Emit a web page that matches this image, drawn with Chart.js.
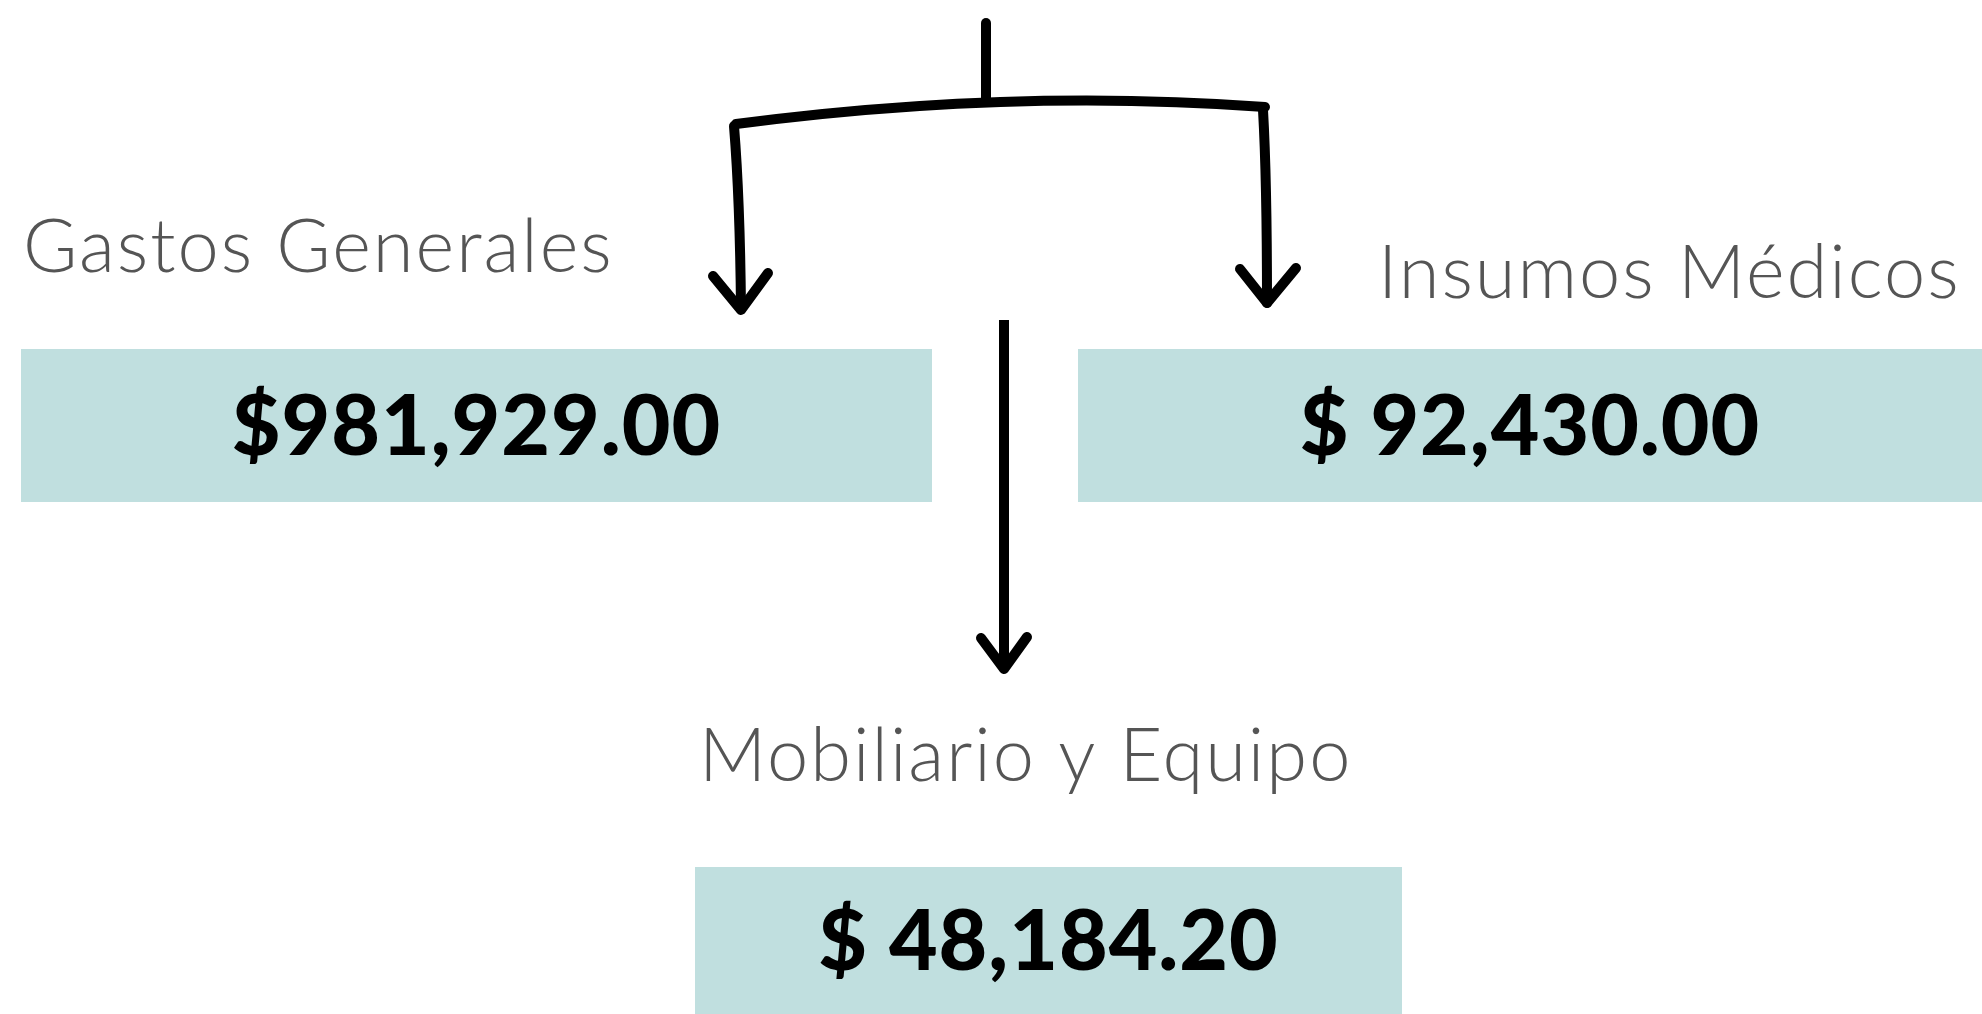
<!DOCTYPE html>
<html>
<head>
<meta charset="utf-8">
<script src="https://cdn.jsdelivr.net/npm/chart.js@4.4.1/dist/chart.umd.min.js"></script>
<style>
   html, body { margin: 0; padding: 0; background: #fff; }
   #wrap { width: 1982px; height: 1014px; }
</style>
</head>
<body>
<div id="wrap"><canvas id="gastosChart"></canvas></div>
<script>
// categories and amounts
const categories = ['Gastos Generales', 'Insumos Médicos', 'Mobiliario y Equipo'];
const amounts = [981929.00, 92430.00, 48184.20];
const amountLabels = ['$981,929.00', '$ 92,430.00', '$ 48,184.20'];

// layout in scale units (x 0-1982, y 0-1014 top down)
const boxes = [
   { x0: 21, x1: 932, y0: 349, y1: 502 },
   { x0: 1078, x1: 1982, y0: 349, y1: 502 },
   { x0: 695, x1: 1402, y0: 867, y1: 1014 }
];
const titlePos = [
   { x: 23, y: 272 },
   { x: 1378, y: 298 },
   { x: 699, y: 781 }
];

const diagramPlugin = {
   id: 'diagram',
   afterDraw(chart) {
      const ctx = chart.ctx;
      const sx = chart.scales.x, sy = chart.scales.y;
      const px = v => sx.getPixelForValue(v);
      const py = v => sy.getPixelForValue(v);

      ctx.save();

      // boxes + amounts
      boxes.forEach((b, i) => {
         ctx.fillStyle = '#c0dfdf';
         ctx.fillRect(px(b.x0), py(b.y0), px(b.x1) - px(b.x0), py(b.y1) - py(b.y0));
         ctx.fillStyle = '#000';
         ctx.font = '900 84px Lato';
         ctx.letterSpacing = '1px';
         ctx.textAlign = 'center';
         ctx.textBaseline = 'middle';
         ctx.fillText(amountLabels[i], px((b.x0 + b.x1) / 2), py((b.y0 + b.y1) / 2 + 2));
      });

      // category titles
      ctx.fillStyle = '#555555';
      ctx.font = '300 74px Lato';
      ctx.letterSpacing = '2px';
      ctx.textAlign = 'left';
      ctx.textBaseline = 'alphabetic';
      categories.forEach((c, i) => {
         ctx.fillText(c, px(titlePos[i].x), py(titlePos[i].y));
      });
      ctx.letterSpacing = '0px';

      // arrows
      ctx.strokeStyle = '#000';
      ctx.lineWidth = 10;
      ctx.lineCap = 'round';
      ctx.lineJoin = 'round';

      const line = pts => {
         ctx.beginPath();
         ctx.moveTo(px(pts[0][0]), py(pts[0][1]));
         pts.slice(1).forEach(p => ctx.lineTo(px(p[0]), py(p[1])));
         ctx.stroke();
      };

      // top stem
      line([[986, 23], [986, 101]]);
      // curved bracket
      ctx.beginPath();
      ctx.moveTo(px(736), py(124));
      ctx.quadraticCurveTo(px(1010), py(88), px(1265), py(107));
      ctx.stroke();
      // left arrow
      ctx.beginPath();
      ctx.moveTo(px(734), py(126));
      ctx.quadraticCurveTo(px(740), py(200), px(741), py(309));
      ctx.stroke();
      line([[713, 276], [741, 310], [768, 273]]);
      // right arrow
      ctx.beginPath();
      ctx.moveTo(px(1263), py(110));
      ctx.quadraticCurveTo(px(1267), py(180), px(1267), py(303));
      ctx.stroke();
      line([[1240, 269], [1267, 303], [1296, 268]]);
      // middle arrow
      ctx.lineCap = 'butt';
      line([[1004, 320], [1004, 668]]);
      ctx.lineCap = 'round';
      line([[981, 638], [1004, 669], [1027, 637]]);

      ctx.restore();
   }
};

const ctx = document.getElementById('gastosChart').getContext('2d');
new Chart(ctx, {
   type: 'scatter',
   data: {
      labels: categories,
      datasets: [{ label: 'Montos', data: [] }]
   },
   options: {
      responsive: true,
      maintainAspectRatio: false,
      animation: false,
      layout: { padding: 0 },
      scales: {
         x: { type: 'linear', min: 0, max: 1982, display: false },
         y: { type: 'linear', min: 0, max: 1014, reverse: true, display: false }
      },
      plugins: {
         legend: { display: false },
         tooltip: { enabled: false }
      }
   },
   plugins: [diagramPlugin]
});
</script>
</body>
</html>
